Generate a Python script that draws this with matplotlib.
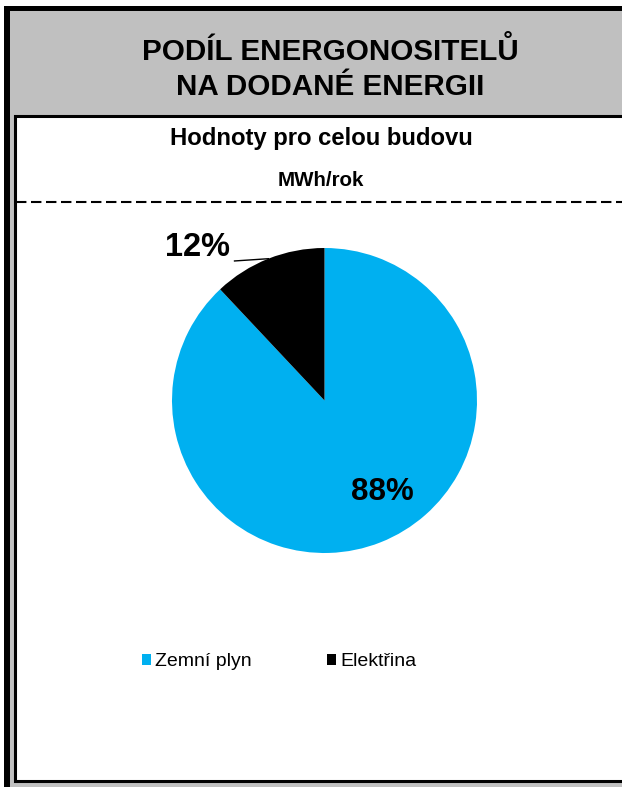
"""
Podíl energonositelů na dodané energii - koláčový graf
"""
import numpy as np
import matplotlib
matplotlib.use('Agg')
import matplotlib.pyplot as plt
import matplotlib.patches as patches

# data
categories = ['Zemní plyn', 'Elektřina']
shares = [88, 12]
colors = ['#00B0F0', '#000000']

title = 'PODÍL ENERGONOSITELŮ\nNA DODANÉ ENERGII'
subtitle = 'Hodnoty pro celou budovu'
unit = 'MWh/rok'

W, H = 622, 787
plt.rcParams['font.family'] = ['Liberation Sans', 'DejaVu Sans']

fig = plt.figure(figsize=(W / 100, H / 100), dpi=100)

# pozadí a rámečky v pixelových souřadnicích
bg = fig.add_axes([0, 0, 1, 1])
bg.set_xlim(0, W)
bg.set_ylim(H, 0)
bg.axis('off')

bg.add_patch(patches.Rectangle((4, 6), W + 10, H, facecolor='black', edgecolor='none'))
bg.add_patch(patches.Rectangle((10, 11), W + 10, H, facecolor='#C0C0C0', edgecolor='none'))
bg.add_patch(patches.Rectangle((14.5, 115.5), W + 10, 665, facecolor='white',
                               edgecolor='black', linewidth=2.2))

bg.text(330, 69, title, ha='center', va='center', fontsize=21.3,
        fontweight='bold', linespacing=1.36)
bg.text(321, 139, subtitle, ha='center', va='center', fontsize=17.2, fontweight='bold')
bg.text(321, 181, unit, ha='center', va='center', fontsize=14.8, fontweight='bold')

dash, = bg.plot([16, W], [202, 202], color='black', linewidth=1.5)
dash.set_dashes((5, 2.2))

# koláč
cx, cy, r = 324.5, 400.5, 152.5
ax = fig.add_axes([(cx - r) / W, (H - cy - r) / H, 2 * r / W, 2 * r / H])
wedges, _ = ax.pie(shares, colors=colors, startangle=90, counterclock=False,
                   radius=1, wedgeprops=dict(linewidth=0))
ax.set_xlim(-1, 1)
ax.set_ylim(-1, 1)
ax.set_aspect('equal')

# popisky
ax.text(0.38, -0.60, f'{shares[0]}%', ha='center', va='center',
        fontsize=22.5, fontweight='bold', clip_on=False)

w1 = wedges[1]
mid = np.deg2rad((w1.theta1 + w1.theta2) / 2)
ex, ey = np.cos(mid), np.sin(mid)
ax.plot([-0.59, ex], [0.915, ey], color='black', linewidth=1, clip_on=False)
ax.text(-0.83, 1.0, f'{shares[1]}%', ha='center', va='center',
        fontsize=23.5, fontweight='bold', clip_on=False)

# legenda
handles = [patches.Patch(facecolor=c, edgecolor='none') for c in colors]
fig.legend(handles, categories, loc='center', bbox_to_anchor=(279 / W, 1 - 662 / H),
           ncol=2, frameon=False, fontsize=14, handlelength=0.46, handleheight=0.46,
           handletextpad=0.2, columnspacing=3.9)

fig.savefig('out.png', dpi=100)
